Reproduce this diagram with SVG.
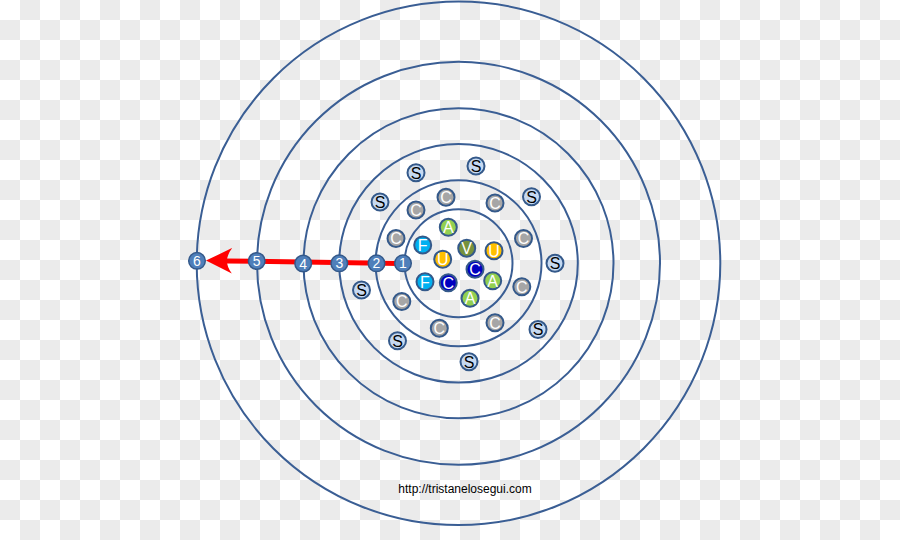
<svg xmlns="http://www.w3.org/2000/svg" width="900" height="540" viewBox="0 0 900 540">
<defs>
<pattern id="checker" x="0" y="0" width="40" height="40" patternUnits="userSpaceOnUse">
<rect x="0" y="0" width="40" height="40" fill="#ffffff"/>
<rect x="20" y="0" width="20" height="20" fill="#ebebeb"/>
<rect x="0" y="20" width="20" height="20" fill="#ebebeb"/>
</pattern>
<marker id="head" viewBox="0 0 26 28" refX="6" refY="14" markerWidth="26" markerHeight="28" markerUnits="userSpaceOnUse" orient="auto">
<path d="M0,1.5 L26,14 L0,27 Q10,14 0,1.5 Z" fill="#ff0000"/>
</marker>
</defs>
<style>
.ring{fill:none;stroke:#3a5e94;stroke-width:2}
.num circle{fill:#4f7fba;stroke:#34598a;stroke-width:1.5}
.num text{fill:#ffffff;font-family:"Liberation Sans",Arial,sans-serif;font-size:14px;text-anchor:middle}
.n circle{stroke:#34598a;stroke-width:2}
.n text{font-family:"Liberation Sans",Arial,sans-serif;font-size:16px;text-anchor:middle;fill:#ffffff}
.s circle{fill:#c6d9f1}
.s text{fill:#000000}
.g circle{fill:#a6a6a6}
.a circle{fill:#92d050}
.v circle{fill:#76923c}
.u circle{fill:#ffc000}
.f circle{fill:#00b0f0}
.c circle{fill:#0000c0}
.url{font-family:"Liberation Sans",Arial,sans-serif;font-size:12px;fill:#000000;text-anchor:middle}
</style>
<rect x="0" y="0" width="900" height="540" fill="url(#checker)"/>
<g id="rings">
<circle class="ring" cx="458.5" cy="263.3" r="54"/>
<circle class="ring" cx="458.5" cy="263.3" r="83"/>
<circle class="ring" cx="458.5" cy="263.3" r="119.3"/>
<circle class="ring" cx="458.5" cy="263.3" r="155"/>
<circle class="ring" cx="458.5" cy="263.3" r="201.5"/>
<circle class="ring" cx="458.5" cy="263.3" r="261.8"/>
</g>
<g id="connectors">
<line x1="400" y1="263.5" x2="226" y2="260.9" stroke="#ff0000" stroke-width="5" marker-end="url(#head)"/>
</g>
<g id="inner-nodes">
<g id="s1" class="n s"><circle cx="380" cy="202" r="8.5"/><text x="380" y="207.8">S</text></g>
<g id="s2" class="n s"><circle cx="416" cy="172.7" r="8.5"/><text x="416" y="178.5">S</text></g>
<g id="s3" class="n s"><circle cx="476" cy="166" r="8.5"/><text x="476" y="171.8">S</text></g>
<g id="s4" class="n s"><circle cx="531.5" cy="196.8" r="8.5"/><text x="531.5" y="202.6">S</text></g>
<g id="s5" class="n s"><circle cx="555" cy="263.3" r="8.5"/><text x="555" y="269.1">S</text></g>
<g id="s6" class="n s"><circle cx="361.5" cy="290" r="8.5"/><text x="361.5" y="295.8">S</text></g>
<g id="s7" class="n s"><circle cx="538" cy="329.5" r="8.5"/><text x="538" y="335.3">S</text></g>
<g id="s8" class="n s"><circle cx="397.5" cy="340.7" r="8.5"/><text x="397.5" y="346.5">S</text></g>
<g id="s9" class="n s"><circle cx="469" cy="361.7" r="8.5"/><text x="469" y="367.5">S</text></g>
<g id="c1" class="n g"><circle cx="446" cy="197.3" r="8.5"/><text x="446" y="203.1">C</text></g>
<g id="c2" class="n g"><circle cx="416" cy="210" r="8.5"/><text x="416" y="215.8">C</text></g>
<g id="c3" class="n g"><circle cx="495" cy="203" r="8.5"/><text x="495" y="208.8">C</text></g>
<g id="c4" class="n g"><circle cx="396" cy="238.5" r="8.5"/><text x="396" y="244.3">C</text></g>
<g id="c5" class="n g"><circle cx="523.5" cy="238.5" r="8.5"/><text x="523.5" y="244.3">C</text></g>
<g id="c6" class="n g"><circle cx="521.8" cy="286.7" r="8.5"/><text x="521.8" y="292.5">C</text></g>
<g id="c7" class="n g"><circle cx="401.8" cy="301.5" r="8.5"/><text x="401.8" y="307.3">C</text></g>
<g id="c8" class="n g"><circle cx="439.3" cy="328.3" r="8.5"/><text x="439.3" y="334.1">C</text></g>
<g id="c9" class="n g"><circle cx="495" cy="322.8" r="8.5"/><text x="495" y="328.6">C</text></g>
<g id="a1" class="n a"><circle cx="448.3" cy="227.3" r="8.5"/><text x="448.3" y="233.1">A</text></g>
<g id="f1" class="n f"><circle cx="422.7" cy="245" r="8.5"/><text x="422.7" y="250.8">F</text></g>
<g id="v1" class="n v"><circle cx="466.7" cy="248.3" r="8.5"/><text x="466.7" y="254.1">V</text></g>
<g id="u1" class="n u"><circle cx="494" cy="250.7" r="8.5"/><text x="494" y="256.5">U</text></g>
<g id="u2" class="n u"><circle cx="442.7" cy="259.3" r="8.5"/><text x="442.7" y="265.1">U</text></g>
<g id="dc1" class="n c"><circle cx="475" cy="269.3" r="8.5"/><text x="475" y="275.1">C</text></g>
<g id="f2" class="n f"><circle cx="425" cy="281.7" r="8.5"/><text x="425" y="287.5">F</text></g>
<g id="dc2" class="n c"><circle cx="448.3" cy="282.7" r="8.5"/><text x="448.3" y="288.5">C</text></g>
<g id="a2" class="n a"><circle cx="492.7" cy="280.7" r="8.5"/><text x="492.7" y="286.5">A</text></g>
<g id="a3" class="n a"><circle cx="470" cy="298.3" r="8.5"/><text x="470" y="304.1">A</text></g>
</g>
<g id="step-nodes">
<g id="n1" class="num"><circle cx="403" cy="263.3" r="8.3"/><text x="403" y="268.3">1</text></g>
<g id="n2" class="num"><circle cx="376.5" cy="263.3" r="8.3"/><text x="376.5" y="268.3">2</text></g>
<g id="n3" class="num"><circle cx="339.3" cy="263.3" r="8.3"/><text x="339.3" y="268.3">3</text></g>
<g id="n4" class="num"><circle cx="303.2" cy="263.5" r="8.3"/><text x="303.2" y="268.5">4</text></g>
<g id="n5" class="num"><circle cx="256.7" cy="261" r="8.3"/><text x="256.7" y="266">5</text></g>
<g id="n6" class="num"><circle cx="197" cy="260.8" r="8.3"/><text x="197" y="265.8">6</text></g>
</g>
<text class="url" x="465" y="492.5">http://tristanelosegui.com</text>
</svg>
